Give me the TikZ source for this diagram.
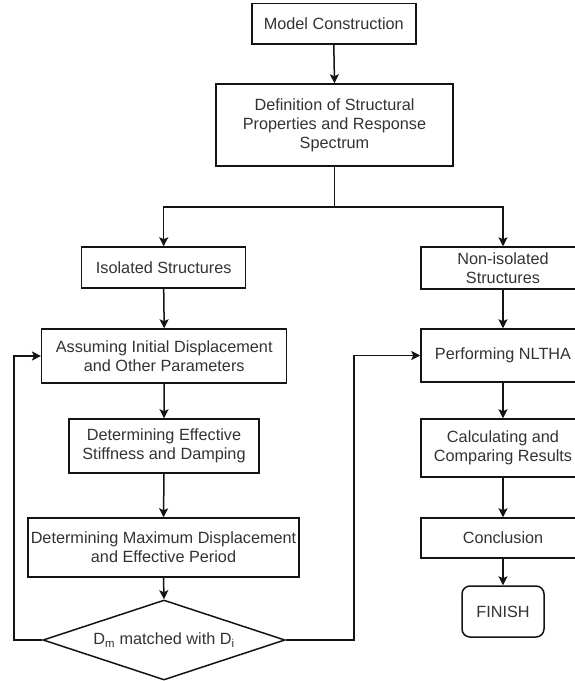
\documentclass[tikz,border=0pt]{standalone}
\usepackage{fontspec}
\setmainfont{Liberation Sans}
\usetikzlibrary{arrows.meta,shapes.geometric}
\definecolor{txtgray}{HTML}{333333}
\definecolor{linecol}{HTML}{141414}
\tikzset{
  stepbox/.style={draw=linecol, line width=1.5pt, rectangle, inner sep=0pt, align=center,
    text=txtgray, font=\fontsize{16.25}{19}\selectfont},
  endbox/.style={stepbox, rounded corners=8pt},
  decbox/.style={draw=linecol, line width=1.5pt, diamond, shape aspect=3.025, inner sep=0pt, text=txtgray,
    font=\fontsize{16.25}{19}\selectfont, minimum width=242pt, minimum height=80pt},
  arr/.style={draw=linecol, line width=1.5pt, -{Stealth[length=9pt,width=9pt,inset=2pt]}},
  ln/.style={draw=linecol, line width=1.5pt}
}
\begin{document}
\begin{tikzpicture}[x=1pt,y=-1pt]
\path[use as bounding box, fill=white] (0,0) rectangle (575,681);
\clip (0,0) rectangle (575,681);
% left / centre column
\node[stepbox, minimum width=164pt, minimum height=40.5pt] (model) at (333.8,23.5) {Model Construction};
\node[stepbox, minimum width=237pt, minimum height=82pt] (def) at (334.5,125) {Definition of Structural\\Properties and Response\\Spectrum};
\node[stepbox, minimum width=164pt, minimum height=41pt] (iso) at (163.7,267.5) {Isolated Structures};
\node[stepbox, minimum width=245pt, minimum height=54pt] (assume) at (164.2,356) {Assuming Initial Displacement\\and Other Parameters};
\node[stepbox, minimum width=190pt, minimum height=54pt] (deteff) at (164,446) {Determining Effective\\Stiffness and Damping};
\node[stepbox, minimum width=271pt, minimum height=59pt] (detmax) at (163.5,547.5) {Determining Maximum Displacement\\and Effective Period};
\node[decbox] (dia) at (164,640) {D\textsubscript{m} matched with D\textsubscript{i}};
% right column
\node[stepbox, minimum width=164pt, minimum height=42pt] (noniso) at (503,268) {Non-isolated\\Structures};
\node[stepbox, minimum width=164pt, minimum height=53pt] (perf) at (503,355.5) {Performing NLTHA};
\node[stepbox, minimum width=164pt, minimum height=58pt] (calc) at (503,448) {Calculating and\\Comparing Results};
\node[stepbox, minimum width=164pt, minimum height=40pt] (concl) at (503,538) {Conclusion};
\node[endbox, minimum width=82pt, minimum height=51pt] (finish) at (503,611.5) {FINISH};
% helper coordinates
\coordinate (br) at (334.5,207);
\coordinate (loopL) at (14,640);
\coordinate (loopR) at (354,640);
% connectors
\draw[arr] (model.south) -- (def.north);
\draw[ln] (def.south) -- (br);
\draw[arr] (br) -| (iso.north);
\draw[arr] (br) -| (noniso.north);
\draw[arr] (iso.south) -- (assume.north);
\draw[arr] (assume.south) -- (deteff.north);
\draw[arr] (deteff.south) -- (detmax.north);
\draw[arr] (detmax.south) -- (dia.north);
\draw[arr] (dia.west) -- (loopL) |- (assume.west);
\draw[arr] (dia.east) -- (loopR) |- (perf.west);
\draw[arr] (noniso.south) -- (perf.north);
\draw[arr] (perf.south) -- (calc.north);
\draw[arr] (calc.south) -- (concl.north);
\draw[arr] (concl.south) -- (finish.north);
\end{tikzpicture}
\end{document}
